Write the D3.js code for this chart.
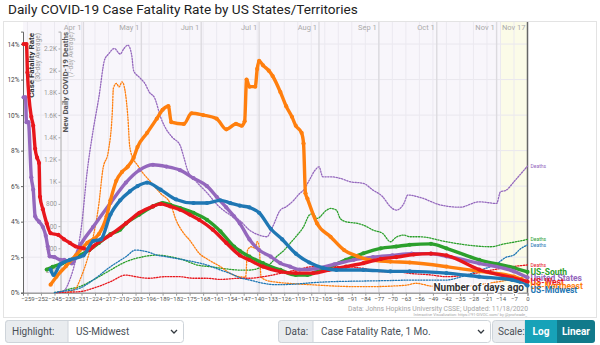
<!DOCTYPE html>
<html>
<head>
<meta charset="utf-8">
<script src="https://cdn.jsdelivr.net/npm/d3@7"></script>
<style>
  body { margin: 0; background: #fff; font-family: Roboto, "Noto Sans", sans-serif; }
  svg { display: block; }
</style>
</head>
<body>
<svg id="chart" width="600" height="345"></svg>
<script>
// ---- data -----------------------------------------------------------------
// [days ago, value]; rate in %, deaths = 7-day average of new daily deaths
const regions = ["US-South", "United States", "US-Northeast", "US-West", "US-Midwest"];
const regionColors = ["#2ca02c", "#9467bd", "#ff7f0e", "#e8161c", "#1f77b4"];

const rateSouth = [[-249,1.3],[-246,1.45],[-241,1.65],[-234,2.0],[-227,2.4],[-222,2.8],[-216,3.3],[-211,3.55],[-208,3.9],[-201,4.4],[-194,4.86],[-189,5.05],[-185,4.95],[-180,4.77],[-173,4.5],[-166,4.1],[-159,3.45],[-152,2.6],[-149,2.35],[-144,2.03],[-137,1.66],[-128,1.28],[-120,1.0],[-114,1.0],[-109,1.19],[-102,1.47],[-94,1.85],[-85,2.22],[-76,2.5],[-68,2.6],[-61,2.7],[-50,2.75],[-42,2.5],[-25,1.85],[-7,1.4],[0,1.17]];
const rateUS = [[-261,11.0],[-260,11.0],[-259.5,9.6],[-258.5,9.6],[-257,6.5],[-256,5.8],[-255,4.3],[-253,4.0],[-251,3.7],[-249.5,3.2],[-248.5,2.6],[-247.5,2.05],[-245,2.0],[-242,1.85],[-240,1.85],[-238,1.75],[-236,1.65],[-232,2.6],[-225,3.7],[-216,5.05],[-208,6.2],[-201,6.9],[-194,7.2],[-187,7.1],[-180,6.9],[-173,6.45],[-166,6.0],[-161,5.4],[-156,4.8],[-152,4.3],[-149,3.9],[-144,3.0],[-139,2.4],[-133,2.03],[-128,1.66],[-123,1.47],[-118,1.3],[-110,1.35],[-100,1.6],[-90,1.85],[-80,2.0],[-70,2.1],[-60,2.2],[-50,2.2],[-42,2.05],[-25,1.65],[-7,1.2],[0,0.85]];
const rateNortheast = [[-247,0.45],[-244,0.9],[-239,1.5],[-234,2.1],[-228,2.8],[-222,3.3],[-218,4.3],[-216,5.2],[-213,6.3],[-210,6.8],[-207,7.1],[-204,7.6],[-202,8.2],[-197,9.0],[-192,9.8],[-189,10.3],[-186,10.5],[-184.5,9.6],[-178,9.5],[-174,10.1],[-168,10.0],[-161,9.8],[-156,9.2],[-151,9.5],[-148,9.4],[-146.5,9.65],[-145.5,12.0],[-144,11.6],[-141,11.6],[-140,12.6],[-139,13.05],[-137,12.8],[-134,12.5],[-132,12.2],[-128,11.3],[-125,10.5],[-122,9.9],[-120,9.4],[-117,9.0],[-116,8.4],[-115,5.6],[-114,5.3],[-109,3.9],[-102,3.15],[-95,2.4],[-88,2.05],[-82,1.85],[-71,1.75],[-61,1.7],[-42,1.47],[-25,1.2],[-7,0.9],[0,0.6]];
const rateWest = [[-261,14.0],[-259.5,14.0],[-259,12.4],[-257,9.9],[-256,9.4],[-255,8.1],[-254,7.6],[-253,7.3],[-252.5,5.4],[-251,4.7],[-249,3.9],[-247,3.35],[-243,3.25],[-240,3.0],[-237,2.8],[-234,2.6],[-230,2.5],[-227,2.4],[-225,2.6],[-216,3.25],[-208,3.9],[-201,4.5],[-194,4.86],[-190,5.0],[-185,4.86],[-180,4.67],[-175,4.4],[-170,4.1],[-163,3.55],[-156,2.8],[-149,2.1],[-144,1.84],[-137,1.47],[-128,1.19],[-120,1.1],[-111,1.1],[-103,1.28],[-94,1.47],[-85,1.66],[-76,1.9],[-68,2.0],[-59,2.15],[-50,2.2],[-42,2.1],[-25,1.3],[-8,0.85],[0,0.62]];
const rateMidwest = [[-247,1.3],[-245.5,1.0],[-242,1.6],[-237,1.85],[-230,2.1],[-225,2.9],[-221,3.0],[-216,4.4],[-211,5.2],[-206,5.7],[-202,6.0],[-197,6.2],[-190,5.8],[-182,5.25],[-173,5.05],[-166,5.05],[-159,5.2],[-154,5.05],[-149,4.9],[-144,4.8],[-139,4.5],[-133,3.6],[-127,3.0],[-120,2.2],[-113,1.7],[-106,1.4],[-99,1.28],[-85,1.28],[-71,1.2],[-61,1.2],[-42,1.1],[-25,0.9],[-8,0.72],[0,0.4]];

const deathsSouth = [[-245,2],[-242,9],[-238,30],[-232,54],[-225,114],[-216,204],[-208,279],[-199,324],[-192,339],[-185,324],[-178,294],[-171,249],[-164,234],[-158,219],[-149,204],[-144,204],[-137,234],[-133,264],[-130,324],[-126,384],[-123,444],[-120,504],[-116,594],[-113,699],[-111,714],[-109,669],[-104,744],[-102,759],[-99,744],[-97,669],[-94,639],[-88,624],[-85,609],[-80,564],[-75,534],[-71,459],[-68,500],[-64,519],[-61,504],[-56,504],[-42,459],[-31,429],[-19,414],[-12,440],[-7,455],[0,480]];
const deathsUS = [[-243,5],[-240,20],[-237,120],[-234,300],[-231,600],[-228,1100],[-225,1460],[-222,1760],[-219,2100],[-217,2150],[-214,2200],[-211,2150],[-209,2200],[-207,2230],[-205,2140],[-204,2000],[-201,1940],[-198,1880],[-196,1810],[-193,1750],[-190,1580],[-188,1500],[-184,1400],[-180,1330],[-178,1220],[-176,1100],[-172,1010],[-166,900],[-160,780],[-154,700],[-149,650],[-144,564],[-139,519],[-135,504],[-132,594],[-128,744],[-125,774],[-121,834],[-118,894],[-116,924],[-113,1014],[-110,1104],[-108,1134],[-106,1044],[-102,1044],[-97,1030],[-92,1000],[-85,985],[-80,924],[-75,864],[-71,774],[-68,744],[-64,804],[-62,880],[-56,860],[-45,790],[-35,770],[-25,819],[-16,804],[-14,909],[-11,924],[-7,1000],[-4,1060],[0,1140]];
const deathsNortheast = [[-238,5],[-234,40],[-231,150],[-228,300],[-225,500],[-222,800],[-220,1104],[-217,1284],[-215,1644],[-214.5,1840],[-213,1885],[-211.5,1854],[-210,1900],[-208.5,1824],[-207,1584],[-206,1314],[-204,1200],[-202,1150],[-199,1074],[-196,1014],[-190,894],[-185,804],[-182,654],[-178,534],[-175,474],[-170,354],[-165,294],[-159,234],[-154,174],[-149,144],[-146,140],[-145,384],[-143,414],[-141,400],[-140,460],[-139,420],[-138,144],[-135,110],[-130,95],[-120,80],[-110,70],[-100,60],[-90,55],[-80,55],[-70,60],[-62,70],[-58,85],[-50,60],[-40,50],[-30,60],[-20,85],[-10,115],[0,150]];
const deathsWest = [[-244,0],[-238,5],[-232,9],[-225,40],[-216,99],[-208,159],[-203,144],[-196,130],[-188,144],[-180,144],[-173,130],[-166,130],[-159,120],[-149,130],[-144,130],[-137,144],[-128,174],[-120,204],[-111,234],[-102,234],[-94,234],[-85,219],[-76,189],[-68,189],[-61,174],[-50,160],[-42,144],[-30,165],[-20,200],[-10,230],[0,250]];
const deathsMidwest = [[-245,0],[-242,9],[-232,40],[-225,114],[-216,234],[-208,324],[-203,384],[-197,369],[-192,339],[-187,324],[-182,309],[-173,279],[-166,249],[-159,204],[-154,174],[-149,135],[-144,115],[-137,85],[-130,72],[-120,78],[-110,92],[-100,100],[-85,105],[-70,110],[-60,114],[-50,114],[-42,114],[-35,140],[-25,200],[-16,260],[-11,320],[-7,340],[-4,390],[0,430]];

const rateSeries = [rateSouth, rateUS, rateNortheast, rateWest, rateMidwest];
const deathSeries = [deathsSouth, deathsUS, deathsNortheast, deathsWest, deathsMidwest];

const dayTicks = d3.range(-259, 1, 7);
const monthNames = ["Apr 1", "May 1", "Jun 1", "Jul 1", "Aug 1", "Sep 1", "Oct 1", "Nov 1", "Nov 17"];
const monthDays = [-230, -200, -169, -139, -108, -77, -47, -16, 0];
const rateTicks = [0, 2, 4, 6, 8, 10, 12, 14];
const deathTicks = [200, 400, 600, 800, 1000, 1200, 1400, 1600, 1800, 2000, 2200];

// ---- layout ---------------------------------------------------------------
const svg = d3.select("#chart");
const plotLeft = 23, plotRight = 527.5, plotTop = 22, plotBottom = 292.7;

const x = d3.scaleLinear().domain([-261.3, 0]).range([plotLeft, plotRight]);
const yRate = d3.scaleLinear().domain([0, 14.7]).range([plotBottom, 31.6]);
const yDeaths = d3.scaleLinear().domain([0, 2352]).range([plotBottom, 31.6]);

svg.append("text")
  .attr("x", 8).attr("y", 14)
  .attr("font-size", 13.6).attr("fill", "#222")
  .text("Daily COVID-19 Case Fatality Rate by US States/Territories");

// chart card
svg.append("rect")
  .attr("x", 3.5).attr("y", 21.5).attr("width", 593).attr("height", 296)
  .attr("fill", "#fff").attr("stroke", "#e3e3e3");

svg.append("rect")
  .attr("x", plotLeft).attr("y", plotTop)
  .attr("width", plotRight - plotLeft).attr("height", plotBottom - plotTop)
  .attr("fill", "#f8f6fb");

// last two weeks, still being reported
svg.append("rect")
  .attr("x", x(-14)).attr("y", plotTop)
  .attr("width", plotRight - x(-14)).attr("height", plotBottom - plotTop)
  .attr("fill", "#fbfbe8");

// grid
const grid = svg.append("g");
grid.selectAll(".hg").data(rateTicks).join("line")
  .attr("x1", plotLeft).attr("x2", plotRight)
  .attr("y1", d => yRate(d)).attr("y2", d => yRate(d))
  .attr("stroke", "#e9e7ee");
grid.selectAll(".vg").data(dayTicks).join("line")
  .attr("x1", d => x(d)).attr("x2", d => x(d))
  .attr("y1", plotTop).attr("y2", plotBottom)
  .attr("stroke", "#ebe9f0");
grid.selectAll(".mg").data(monthDays.slice(0, -1)).join("line")
  .attr("x1", d => x(d)).attr("x2", d => x(d))
  .attr("y1", plotTop).attr("y2", plotBottom)
  .attr("stroke", "#dcdadf").attr("stroke-width", 1.4);
grid.selectAll(".ml").data(monthDays).join("text")
  .attr("x", d => x(d) - 2).attr("y", 30)
  .attr("text-anchor", "end").attr("font-size", 7.5).attr("fill", "#aaa")
  .text((d, i) => monthNames[i]);

// axes
const xAxis = svg.append("g")
  .attr("transform", `translate(0,${plotBottom})`)
  .call(d3.axisBottom(x).tickValues(dayTicks).tickSize(3).tickPadding(1.5));
xAxis.select(".domain").attr("stroke", "#777");
xAxis.selectAll(".tick line").attr("stroke", "#999");
xAxis.selectAll("text").attr("font-size", 6).attr("fill", "#555").attr("font-family", "Roboto");

const rateAxis = svg.append("g")
  .attr("transform", `translate(${plotLeft},0)`)
  .call(d3.axisLeft(yRate).tickValues(rateTicks).tickFormat(d => d + "%").tickSize(2).tickPadding(1.5));
rateAxis.select(".domain").attr("stroke", "#666");
rateAxis.selectAll(".tick line").attr("stroke", "#666");
rateAxis.selectAll("text").attr("font-size", 6.5).attr("fill", "#444").attr("font-family", "Roboto");

const deathAxis = svg.append("g")
  .attr("transform", "translate(60.5,0)")
  .call(d3.axisLeft(yDeaths).tickValues(deathTicks)
    .tickFormat(d => d >= 1000 ? (d / 1000) + "K" : d).tickSize(2).tickPadding(1.5));
deathAxis.select(".domain").attr("stroke", "#aaa");
deathAxis.selectAll(".tick line").attr("stroke", "#aaa");
deathAxis.selectAll("text").attr("font-size", 6.5).attr("fill", "#999").attr("font-family", "Roboto");

// axis titles
function vlabel(tx, ty, str, size, weight, fill) {
  svg.append("text")
    .attr("transform", `translate(${tx},${ty}) rotate(-90)`)
    .attr("text-anchor", "end").attr("font-size", size)
    .attr("font-weight", weight).attr("fill", fill).text(str);
}
vlabel(34, 33, "Case Fatality Rate", 8, "bold", "#333");
vlabel(40, 33, "(30-day Average)", 6.5, "normal", "#999");
vlabel(68, 32, "New Daily COVID-19 Deaths", 8, "bold", "#555");
vlabel(73, 32, "(7-day Average)", 6.5, "normal", "#aaa");

// today
svg.append("line")
  .attr("x1", plotRight).attr("x2", plotRight).attr("y1", plotTop).attr("y2", plotBottom)
  .attr("stroke", "#666").attr("stroke-width", 1.5);

// ---- series ---------------------------------------------------------------
const rateLine = d3.line().x(d => x(d[0])).y(d => yRate(d[1])).curve(d3.curveMonotoneX);
const deathLine = d3.line().x(d => x(d[0])).y(d => yDeaths(d[1])).curve(d3.curveMonotoneX);

const deathsG = svg.append("g");
deathSeries.forEach((s, i) => {
  deathsG.append("path")
    .attr("d", deathLine(s))
    .attr("fill", "none").attr("stroke", regionColors[i])
    .attr("stroke-width", 1.3).attr("stroke-linecap", "round")
    .attr("stroke-dasharray", "1.3,1.5");
});

const drawOrder = [0, 1, 2, 3, 4];
const rateG = svg.append("g");
drawOrder.forEach(i => {
  const g = rateG.append("g");
  g.append("path")
    .attr("d", rateLine(rateSeries[i]))
    .attr("fill", "none").attr("stroke", regionColors[i])
    .attr("stroke-width", 3.4).attr("stroke-linejoin", "round");
  g.selectAll("circle").data(rateSeries[i]).join("circle")
    .attr("cx", d => x(d[0])).attr("cy", d => yRate(d[1])).attr("r", 2.1)
    .attr("fill", regionColors[i]);
});

// end labels: series names, nudged apart
const ends = regions.map((name, i) => ({
  name, color: regionColors[i],
  y: yRate(rateSeries[i][rateSeries[i].length - 1][1]) + 3
})).sort((a, b) => a.y - b.y);
for (let k = 1; k < ends.length; k++) {
  if (ends[k].y < ends[k - 1].y + 4.2) ends[k].y = ends[k - 1].y + 4.2;
}
const firstName = ends[0].y;
deathSeries.forEach((s, i) => {
  const yy = yDeaths(s[s.length - 1][1]) + 1.6;
  if (yy > firstName - 5) return;
  svg.append("text").attr("x", plotRight + 3).attr("y", yy)
    .attr("font-size", 5).attr("fill", regionColors[i]).text("Deaths");
});
svg.append("g").selectAll("text").data(ends).join("text")
  .attr("x", plotRight + 3).attr("y", d => d.y)
  .attr("font-size", 8.5).attr("font-weight", "bold")
  .attr("fill", d => d.color).text(d => d.name);

svg.append("text")
  .attr("x", 524).attr("y", 290.5).attr("text-anchor", "end")
  .attr("font-size", 10).attr("font-weight", "bold").attr("fill", "#333")
  .attr("stroke", "#fff").attr("stroke-width", 2.5).attr("paint-order", "stroke")
  .text("Number of days ago");

svg.append("text")
  .attr("x", 528).attr("y", 311).attr("text-anchor", "end")
  .attr("font-size", 6.8).attr("fill", "#a5a5a5")
  .text("Data: Johns Hopkins University CSSE; Updated: 11/18/2020");
svg.append("text")
  .attr("x", 527).attr("y", 316).attr("text-anchor", "end")
  .attr("font-size", 4).attr("fill", "#a5a5a5")
  .text("Interactive Visualization: https://91-DIVOC.com/ by @profwade_");

// ---- controls -------------------------------------------------------------
const ctl = svg.append("g").attr("font-size", 10).attr("fill", "#495057");
function chevron(cx, cy) {
  ctl.append("path")
    .attr("d", `M${cx - 3},${cy - 1.5}L${cx},${cy + 1.5}L${cx + 3},${cy - 1.5}`)
    .attr("fill", "none").attr("stroke", "#343a40").attr("stroke-width", 1.3);
}
function group(x0, xSplit, x1, y0, label, value) {
  ctl.append("rect").attr("x", x0 + 0.5).attr("y", y0 + 0.5)
    .attr("width", x1 - x0).attr("height", 22).attr("rx", 3)
    .attr("fill", "#fff").attr("stroke", "#ced4da");
  ctl.append("path")
    .attr("d", `M${xSplit},${y0 + 0.5}H${x0 + 3.5}a3,3 0 0 0 -3,3V${y0 + 19.5}a3,3 0 0 0 3,3H${xSplit}Z`)
    .attr("fill", "#e9ecef").attr("stroke", "#ced4da");
  if (label) ctl.append("text").attr("x", x0 + 7).attr("y", y0 + 14.8).text(label);
  if (value) {
    ctl.append("text").attr("x", xSplit + 8).attr("y", y0 + 14.8).text(value);
    chevron(x1 - 9, y0 + 11.5);
  }
}
group(5, 68, 183, 320, "Highlight:", "US-Midwest");
group(278, 313, 490, 320, "Data:", "Case Fatality Rate, 1 Mo.");
ctl.append("path")
  .attr("d", "M525,320.5H495.5a3,3 0 0 0 -3,3V339.5a3,3 0 0 0 3,3H525Z")
  .attr("fill", "#e9ecef").attr("stroke", "#ced4da");
ctl.append("text").attr("x", 498).attr("y", 334.8).text("Scale:");
ctl.append("rect").attr("x", 525).attr("y", 320).attr("width", 32).attr("height", 23)
  .attr("fill", "#17a2b8");
ctl.append("path")
  .attr("d", "M557,320H592a3,3 0 0 1 3,3V340a3,3 0 0 1 -3,3H557Z")
  .attr("fill", "#117a8b");
ctl.append("text").attr("x", 541).attr("y", 334.8).attr("text-anchor", "middle")
  .attr("fill", "#fff").attr("font-weight", "bold").text("Log");
ctl.append("text").attr("x", 576).attr("y", 334.8).attr("text-anchor", "middle")
  .attr("fill", "#fff").attr("font-weight", "bold").text("Linear");

// next row of controls, below the fold
group(7, 44, 131, 345, null, null);
group(135, 177, 338, 345, null, null);
group(342, 385, 531, 345, null, null);
ctl.append("rect").attr("x", 538).attr("y", 345).attr("width", 56).attr("height", 22)
  .attr("rx", 3).attr("fill", "#17a2b8");
</script>
</body>
</html>
